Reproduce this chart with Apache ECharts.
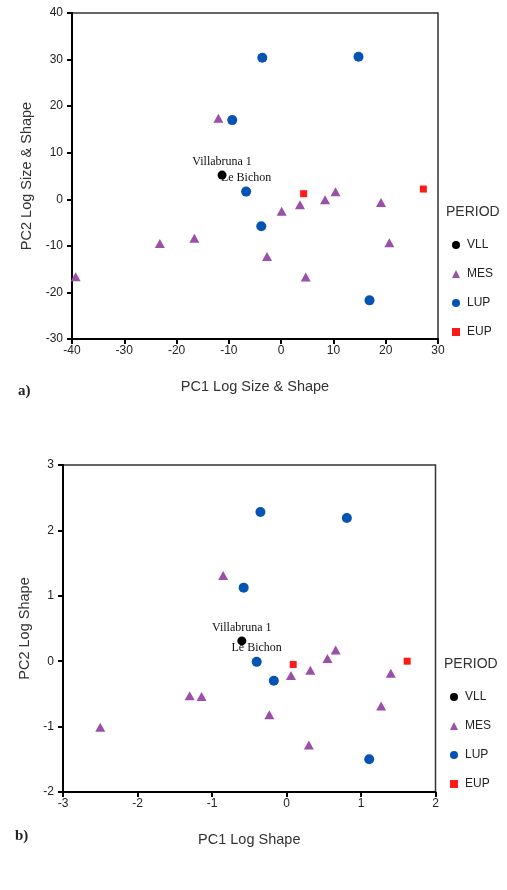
<!DOCTYPE html>
<html>
<head>
<meta charset="utf-8">
<script src="https://cdn.jsdelivr.net/npm/echarts@6/dist/echarts.min.js"></script>
<style>
  html, body { margin: 0; padding: 0; background: #fff; }
  #main { width: 507px; height: 890px; }
</style>
</head>
<body>
<div id="main"></div>
<script>
// a) PC1 / PC2 log size & shape
var sizeShapeVLL = [[-11.3, 5.2]];
var sizeShapeMES = [[-12.0, 17.4], [10.4, 1.6], [8.4, -0.1], [3.6, -1.2], [19.1, -0.7], [0.1, -2.55],
                    [20.7, -9.35], [-2.7, -12.3], [4.7, -16.7], [-23.2, -9.5], [-16.6, -8.35], [-39.3, -16.65]];
var sizeShapeLUP = [[-3.6, 30.4], [14.8, 30.6], [-9.35, 17.0], [-6.7, 1.65], [-3.8, -5.8], [16.9, -21.7]];
var sizeShapeEUP = [[4.3, 1.2], [27.2, 2.2]];

// b) PC1 / PC2 log shape
var shapeVLL = [[-0.60, 0.31]];
var shapeMES = [[-0.85, 1.31], [0.66, 0.17], [0.55, 0.04], [0.32, -0.14], [1.40, -0.185], [0.06, -0.22],
                [1.27, -0.685], [-0.23, -0.82], [0.30, -1.28], [-1.30, -0.53], [-1.14, -0.54], [-2.50, -1.01]];
var shapeLUP = [[-0.35, 2.28], [0.81, 2.19], [-0.575, 1.125], [-0.40, -0.01], [-0.17, -0.30], [1.11, -1.50]];
var shapeEUP = [[0.09, -0.05], [1.62, 0.0]];

var periods = ['VLL', 'MES', 'LUP', 'EUP'];
// named specimens: period -> [index, name]
var namedPoints = [['VLL', 0, 'Villabruna 1'], ['LUP', 3, 'Le Bichon']];

var myChart = echarts.init(document.getElementById('main'));

var styles = {
    VLL: { symbol: 'circle', size: 9, color: '#000000' },
    MES: { symbol: 'triangle', size: [10, 9], color: '#9a4fa8' },
    LUP: { symbol: 'circle', size: 10, color: '#0553b3' },
    EUP: { symbol: 'rect', size: 7, color: '#ff1a1a' }
};

function buildSeries(sets, gridIdx) {
    return periods.map(function (p) {
        var data = sets[p].map(function (pt, i) {
            var item = { value: pt };
            namedPoints.forEach(function (n) {
                if (n[0] === p && n[1] === i) {
                    item.label = {
                        show: true, position: 'top', distance: 3,
                        formatter: n[2],
                        fontFamily: 'Liberation Serif', fontSize: 12, color: '#111'
                    };
                }
            });
            return item;
        });
        return {
            name: p,
            type: 'scatter',
            xAxisIndex: gridIdx,
            yAxisIndex: gridIdx,
            symbol: styles[p].symbol,
            symbolSize: styles[p].size,
            itemStyle: { color: styles[p].color, opacity: 1 },
            data: data
        };
    });
}

function xAx(gridIdx, min, max, step, name, gap) {
    return {
        gridIndex: gridIdx, type: 'value', min: min, max: max, interval: step,
        name: name, nameLocation: 'middle', nameGap: gap,
        nameTextStyle: { fontFamily: 'Liberation Sans', fontSize: 14.5, color: '#333' },
        axisLine: { onZero: false, lineStyle: { color: '#000', width: 2 } },
        axisTick: { length: 5, lineStyle: { color: '#000', width: 2 } },
        axisLabel: { margin: 6, fontFamily: 'Liberation Sans', fontSize: 12, color: '#222' },
        splitLine: { show: false }
    };
}
function yAx(gridIdx, min, max, step, name, gap) {
    return {
        gridIndex: gridIdx, type: 'value', min: min, max: max, interval: step,
        name: name, nameLocation: 'middle', nameGap: gap,
        nameTextStyle: { fontFamily: 'Liberation Sans', fontSize: 14.5, color: '#333' },
        axisLine: { onZero: false, lineStyle: { color: '#000', width: 2 } },
        axisTick: { length: 5, lineStyle: { color: '#000', width: 2 } },
        axisLabel: { margin: 9, fontFamily: 'Liberation Sans', fontSize: 12, color: '#222' },
        splitLine: { show: false }
    };
}

function legendAt(left, top) {
    return {
        orient: 'vertical', left: left, top: top, padding: 0,
        itemWidth: 8, itemHeight: 8, itemGap: 17,
        data: periods,
        textStyle: { fontFamily: 'Liberation Sans', fontSize: 12, color: '#222', padding: [0, 0, 0, 2] }
    };
}

option = {
    backgroundColor: '#fff',
    animation: false,
    title: [
        { text: 'PERIOD', left: 446, top: 205, padding: 0,
          textStyle: { fontFamily: 'Liberation Sans', fontSize: 14, fontWeight: 'normal', color: '#333' } },
        { text: 'PERIOD', left: 444, top: 657, padding: 0,
          textStyle: { fontFamily: 'Liberation Sans', fontSize: 14, fontWeight: 'normal', color: '#333' } }
    ],
    legend: [legendAt(452, 239), legendAt(450, 691)],
    grid: [
        { left: 72, right: 69, top: 13, bottom: 551, show: true, borderColor: '#333', borderWidth: 1.5 },
        { left: 63, right: 71.5, top: 465, bottom: 98, show: true, borderColor: '#333', borderWidth: 1.5 }
    ],
    xAxis: [
        xAx(0, -40, 30, 10, 'PC1 Log Size & Shape', 40),
        xAx(1, -3, 2, 1, 'PC1 Log Shape', 40)
    ],
    yAxis: [
        yAx(0, -30, 40, 10, 'PC2 Log Size & Shape', 38),
        yAx(1, -2, 3, 1, 'PC2 Log Shape', 30)
    ],
    graphic: [
        { type: 'text', left: 18, top: 384,
          style: { text: 'a)', font: 'bold 15px "Liberation Serif"', fill: '#222' } },
        { type: 'text', left: 15, top: 829,
          style: { text: 'b)', font: 'bold 15px "Liberation Serif"', fill: '#222' } }
    ],
    series: buildSeries({ VLL: sizeShapeVLL, MES: sizeShapeMES, LUP: sizeShapeLUP, EUP: sizeShapeEUP }, 0)
        .concat(buildSeries({ VLL: shapeVLL, MES: shapeMES, LUP: shapeLUP, EUP: shapeEUP }, 1))
};
myChart.setOption(option);
</script>
</body>
</html>
